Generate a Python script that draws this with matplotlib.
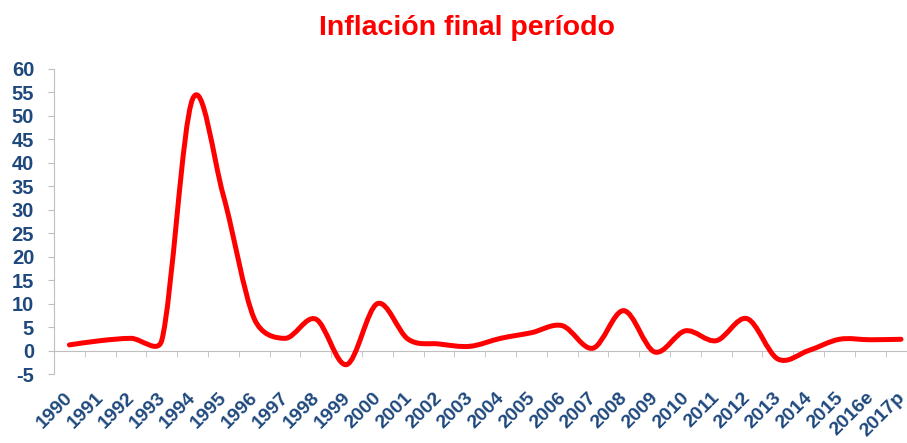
import numpy as np
import matplotlib
matplotlib.use('Agg')
import matplotlib.pyplot as plt
from matplotlib.path import Path
from matplotlib.patches import PathPatch
from matplotlib.transforms import ScaledTranslation

plt.rcParams['font.family'] = ['Liberation Sans', 'DejaVu Sans']

# data
years = ['1990', '1991', '1992', '1993', '1994', '1995', '1996', '1997',
         '1998', '1999', '2000', '2001', '2002', '2003', '2004', '2005',
         '2006', '2007', '2008', '2009', '2010', '2011', '2012', '2013',
         '2014', '2015', '2016e', '2017p']
inflation = [1.2, 2.1, 2.6, 2.2, 53.6, 33.0, 6.8, 2.6,
             6.7, -3.0, 10.0, 2.4, 1.4, 0.9, 2.6, 3.8,
             5.3, 0.5, 8.5, -0.3, 4.2, 2.1, 6.8, -1.8,
             0.0, 2.4, 2.3, 2.4]
yticks = list(range(-5, 61, 5))

BLUE = '#1F497D'
GREY = '#BFBFBF'


def smooth_path(ax, x, y, f0=1/6.):
    """Excel-like smoothed line: cubic Bezier per segment, in screen space.
    Control arms are (P2-P0)/6, shortened to half the segment if too long."""
    tr = ax.transData
    P = tr.transform(np.column_stack([x, y]))
    n = len(P)
    verts = [P[0]]
    codes = [Path.MOVETO]
    for i in range(n - 1):
        p0 = P[max(i - 1, 0)]
        p1, p2 = P[i], P[i + 1]
        p3 = P[min(i + 2, n - 1)]
        d12 = np.hypot(*(p2 - p1))
        d02 = np.hypot(*(p2 - p0))
        d13 = np.hypot(*(p3 - p1))
        f = min(f0, d12 / (2 * d02)) if d02 > 0 else 0
        g = min(f0, d12 / (2 * d13)) if d13 > 0 else 0
        verts += [p1 + f * (p2 - p0), p2 - g * (p3 - p1), p2]
        codes += [Path.CURVE4] * 3
    verts = tr.inverted().transform(np.array(verts))
    return Path(verts, codes)


fig = plt.figure(figsize=(9.07, 4.43), dpi=100)
ax = fig.add_axes([54/907, 69/443, 853/907, 305/443])
ax.set_xlim(-0.5, -0.5 + 853/30.8)
ax.set_ylim(-5, 60)

x = np.arange(len(years))
line = PathPatch(smooth_path(ax, x, inflation), fill=False, edgecolor='#FF0000',
                 lw=3.6, capstyle='round', joinstyle='round', zorder=3)
ax.add_patch(line)

for s in ['top', 'right']:
    ax.spines[s].set_visible(False)
ax.spines['left'].set_color(GREY)
ax.spines['bottom'].set_color(GREY)
ax.spines['bottom'].set_position(('data', 0))

ax.set_yticks(yticks)
ax.set_yticklabels([str(v) for v in yticks])
ax.tick_params(axis='y', direction='out', length=4.3, color=GREY, pad=10,
               labelsize=14.5, labelcolor=BLUE)
for t in ax.get_yticklabels():
    t.set_fontweight('bold')

ax.set_xticks(x)
ax.set_xticklabels(years)
ax.set_xticks(x[:-1] + 0.5, minor=True)
ax.tick_params(axis='x', which='major', length=0, pad=32, labelsize=14,
               labelcolor=BLUE)
ax.tick_params(axis='x', which='minor', direction='out', length=4.3, color=GREY)
shift = ScaledTranslation(1/100, 0, fig.dpi_scale_trans)
for t in ax.get_xticklabels():
    t.set_fontweight('bold')
    t.set_rotation(45)
    t.set_ha('right')
    t.set_va('center')
    t.set_rotation_mode('anchor')
    t.set_transform(t.get_transform() + shift)

fig.text(467/907, 1 - 35/443, 'Inflación final período', ha='center',
         va='baseline', color='#FF0000', fontsize=20.5, fontweight='bold')

fig.savefig('out.png', dpi=100)
